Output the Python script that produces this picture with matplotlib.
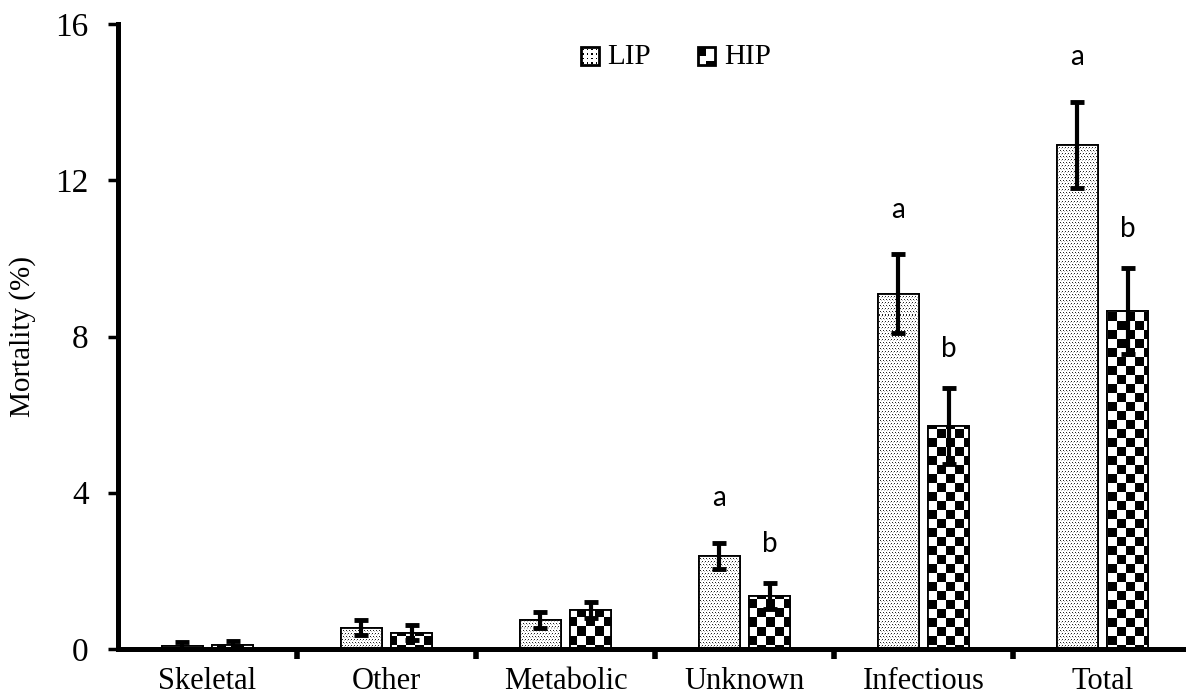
import numpy as np
import matplotlib.pyplot as plt
from matplotlib.patches import Rectangle
from matplotlib.legend_handler import HandlerBase

# Data
categories = ['Skeletal', 'Other', 'Metabolic', 'Unknown', 'Infectious', 'Total']
lip = [0.08, 0.55, 0.75, 2.38, 9.10, 12.90]
hip = [0.10, 0.42, 1.00, 1.36, 5.70, 8.65]
lip_err = [0.10, 0.20, 0.20, 0.33, 1.00, 1.10]
hip_err = [0.10, 0.20, 0.20, 0.33, 0.97, 1.10]
lip_letters = ['', '', '', 'a', 'a', 'a']
hip_letters = ['', '', '', 'b', 'b', 'b']
yticks = [0, 4, 8, 12, 16]

W, H = 1186, 700
fig = plt.figure(figsize=(W / 100, H / 100), dpi=100)
ax_left, ax_bottom, ax_top = 118, 649, 24
ax = fig.add_axes([ax_left / W, 1 - ax_bottom / H, (W - ax_left) / W, (ax_bottom - ax_top) / H])

cat_px = 179.0
x_lo = -0.5
x_hi = x_lo + (W - ax_left) / cat_px
ax.set_xlim(x_lo, x_hi)
ax.set_ylim(0, 16)

# pixel patterns (dots for LIP, checkerboard for HIP)
npx_w, npx_h = W - ax_left, ax_bottom - ax_top
jj, ii = np.meshgrid(np.arange(npx_w), np.arange(npx_h))
dots = np.ones((npx_h, npx_w))
dots[(ii % 3 == 0) & ((jj + (ii // 3) % 2) % 3 == 0)] = 0.15
dots[(ii % 3 == 1) & (jj % 3 == 1)] = 0.75
checker = (((ii // 9) + (jj // 9)) % 2).astype(float)

x = np.arange(len(categories))
bw = 0.229
off = 0.142


def patterned_bars(xpos, vals, pattern):
    bars = ax.bar(xpos, vals, width=bw, facecolor='white', edgecolor='black',
                  linewidth=1.3, zorder=2)
    for b in bars:
        im = ax.imshow(pattern, cmap='gray', vmin=0, vmax=1, interpolation='nearest',
                       extent=(x_lo, x_hi, 0, 16), origin='upper', aspect='auto', zorder=2.5)
        im.set_clip_path(b)
        edge = Rectangle(b.get_xy(), b.get_width(), b.get_height(), fill=False,
                         edgecolor='black', linewidth=1.3, zorder=3)
        ax.add_patch(edge)
    return bars


patterned_bars(x - off, lip, dots)
patterned_bars(x + off, hip, checker)

ekw = dict(fmt='none', ecolor='black', elinewidth=3, capsize=5, capthick=3.5, zorder=4)
ax.errorbar(x - off, lip, yerr=lip_err, **ekw)
ax.errorbar(x + off, hip, yerr=hip_err, **ekw)

for i in range(len(categories)):
    if lip_letters[i]:
        ax.text(x[i] - off, lip[i] + lip_err[i] + 1.15, lip_letters[i], ha='center', va='center',
                fontsize=20, family='Lato')
    if hip_letters[i]:
        ax.text(x[i] + off, hip[i] + hip_err[i] + 1.0, hip_letters[i], ha='center', va='center',
                fontsize=20, family='Lato')

# axes styling
for s in ['top', 'right']:
    ax.spines[s].set_visible(False)
for s in ['left', 'bottom']:
    ax.spines[s].set_linewidth(3.6)
ax.set_yticks(yticks)
ax.set_yticklabels([str(t) for t in yticks], fontsize=24, family='Liberation Serif')
ax.tick_params(axis='y', direction='out', length=7, width=2.5, pad=14)
ax.set_xticks(x)
ax.set_xticklabels(categories, fontsize=22, family='Liberation Serif')
ax.tick_params(axis='x', which='major', length=0, pad=13)
ax.set_xticks(np.arange(0.5, 5.5, 1.0), minor=True)
ax.tick_params(axis='x', which='minor', direction='out', length=7, width=4)
ax.set_ylabel('Mortality (%)', fontsize=21, family='Liberation Serif')
ax.yaxis.set_label_coords(-0.077, 0.5)


class PatternHandler(HandlerBase):
    def __init__(self, kind):
        super().__init__()
        self.kind = kind

    def create_artists(self, legend, orig, xd, yd, width, height, fontsize, trans):
        s = min(width, height)
        x0 = xd + (width - s) / 2
        y0 = yd + (height - s) / 2
        arts = [Rectangle((x0, y0), s, s, facecolor='white', edgecolor='black',
                          linewidth=2, transform=trans)]
        if self.kind == 'lip':
            n = 4
            for a in range(n):
                for b in range(n):
                    arts.append(Rectangle((x0 + s * (a + 0.3) / n, y0 + s * (b + 0.3) / n),
                                          s * 0.35 / n, s * 0.35 / n, facecolor='black',
                                          edgecolor='none', transform=trans))
        else:
            arts.append(Rectangle((x0, y0 + s / 2), s / 2, s / 2, facecolor='black',
                                  edgecolor='none', transform=trans))
            arts.append(Rectangle((x0 + s / 2, y0), s / 2, s / 4, facecolor='black',
                                  edgecolor='none', transform=trans))
        return arts


h_lip = Rectangle((0, 0), 1, 1)
h_hip = Rectangle((0, 0), 1, 1)
fig.legend([h_lip, h_hip], ['LIP', 'HIP'], loc='center', bbox_to_anchor=(0.57, 0.918),
           ncol=2, frameon=False, prop={'family': 'Liberation Serif', 'size': 21},
           handlelength=0.6, handleheight=0.6, handletextpad=0.3, columnspacing=1.6,
           handler_map={h_lip: PatternHandler('lip'), h_hip: PatternHandler('hip')})

fig.savefig('out.png', dpi=100)
